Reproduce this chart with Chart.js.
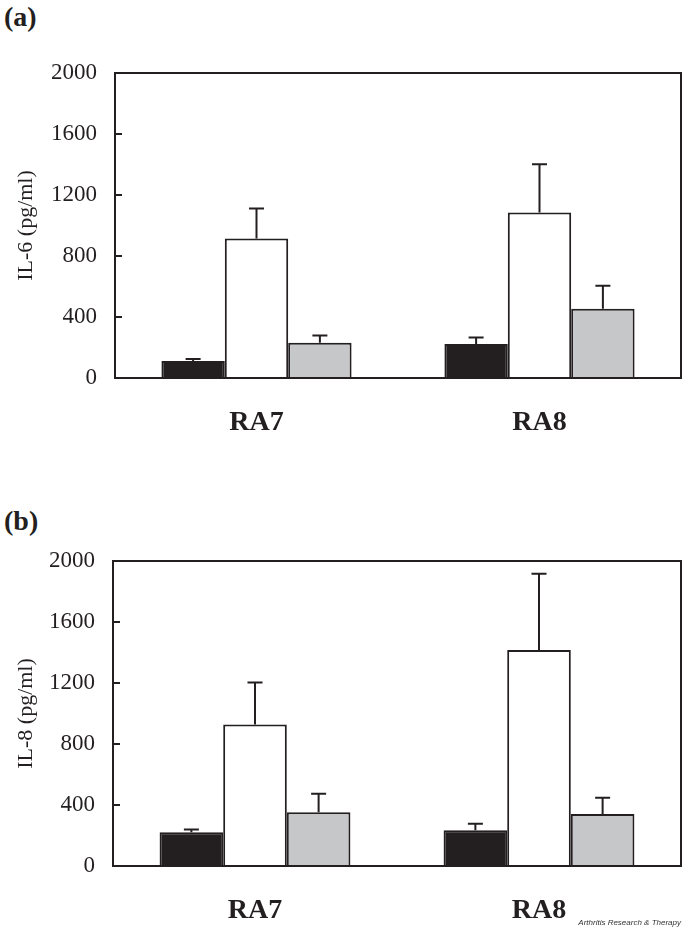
<!DOCTYPE html>
<html>
<head>
<meta charset="utf-8">
<script src="https://cdn.jsdelivr.net/npm/chart.js@4"></script>
<style>
  body { margin: 0; background: #fff; }
  #page { position: relative; width: 685px; height: 935px; overflow: hidden; }
  canvas { position: absolute; left: 0; }
  .panel { position: absolute; left: 4px; font-family: "Liberation Serif", serif; font-weight: bold; font-size: 28px; line-height: 1; color: #231f20; }
  #fonte { position: absolute; right: 4px; top: 918px; font-family: "Liberation Sans", sans-serif; font-style: italic; font-size: 8px; color: #333; }
</style>
</head>
<body>
<div id="page">
  <div class="panel" style="top:3px">(a)</div>
  <canvas id="graficoA" width="685" height="450" style="top:0"></canvas>
  <div class="panel" style="top:507px">(b)</div>
  <canvas id="graficoB" width="685" height="455" style="top:480px"></canvas>
  <div id="fonte">Arthritis Research &amp; Therapy</div>
</div>
<script>
const categorias = ["RA7", "RA8"];
const ticksY = [0, 400, 800, 1200, 1600, 2000];

// (a) IL-6
const il6Preto = [112, 223];
const il6PretoErro = [12, 43];
const il6Branco = [915, 1086];
const il6BrancoErro = [197, 315];
const il6Cinza = [231, 454];
const il6CinzaErro = [48, 151];

// (b) IL-8
const il8Preto = [221, 234];
const il8PretoErro = [19, 43];
const il8Branco = [928, 1417];
const il8BrancoErro = [275, 500];
const il8Cinza = [352, 341];
const il8CinzaErro = [122, 106];

const escuro = "#231f20";
const cinza = "#c6c7c9";

Chart.defaults.font.family = "'Liberation Serif', 'Times New Roman', serif";
Chart.defaults.color = escuro;

// moldura, ticks internos e barras de erro
const molduraPlugin = {
  id: "moldura",
  afterDatasetsDraw(chart) {
    const ctx = chart.ctx;
    const area = chart.chartArea;
    const y = chart.scales.y;

    ctx.save();
    ctx.strokeStyle = escuro;
    ctx.lineWidth = 2;

    chart.data.datasets.forEach((ds, i) => {
      const meta = chart.getDatasetMeta(i);
      meta.data.forEach((barra, j) => {
        const topo = y.getPixelForValue(ds.data[j] + ds.erros[j]);
        ctx.beginPath();
        ctx.moveTo(barra.x, barra.y);
        ctx.lineTo(barra.x, topo);
        ctx.moveTo(barra.x - 7.5, topo);
        ctx.lineTo(barra.x + 7.5, topo);
        ctx.stroke();
      });
    });

    ctx.strokeRect(area.left, area.top, area.right - area.left, area.bottom - area.top);

    ticksY.forEach((v) => {
      if (v == 0 || v == 2000) return;
      const py = Math.round(y.getPixelForValue(v));
      ctx.beginPath();
      ctx.moveTo(area.left, py);
      ctx.lineTo(area.left + 7, py);
      ctx.stroke();
    });
    ctx.restore();
  },
};

function criarGrafico(id, titulo, preto, pretoErro, branco, brancoErro, cinzaV, cinzaErro, layout) {
  return new Chart(document.getElementById(id), {
    type: "bar",
    data: {
      labels: categorias,
      datasets: [
        { data: preto, erros: pretoErro, backgroundColor: escuro, borderColor: escuro, borderWidth: 2 },
        { data: branco, erros: brancoErro, backgroundColor: "#ffffff", borderColor: escuro, borderWidth: 2 },
        { data: cinzaV, erros: cinzaErro, backgroundColor: cinza, borderColor: escuro, borderWidth: 2 },
      ],
    },
    options: {
      responsive: false,
      animation: false,
      devicePixelRatio: 1,
      categoryPercentage: 0.672,
      barPercentage: 1.0,
      layout: {
        padding: { top: layout.top, right: 4, bottom: layout.bottom, left: 0 },
      },
      plugins: {
        legend: { display: false },
        tooltip: { enabled: false },
      },
      scales: {
        x: {
          grid: { display: false },
          border: { display: false },
          ticks: { font: { size: 28, weight: "bold" }, padding: 20, color: escuro },
          afterFit: (scale) => { scale.height = 62; },
        },
        y: {
          min: 0,
          max: 2000,
          afterBuildTicks: (scale) => { scale.ticks = ticksY.map((v) => ({ value: v })); },
          grid: { display: false, drawTicks: false },
          border: { display: false },
          ticks: { font: { size: 23 }, padding: 18, color: escuro, callback: (v) => String(v) },
          title: {
            display: true,
            text: titulo,
            font: { size: 22 },
            color: escuro,
            padding: { top: 13, bottom: 0 },
          },
          afterFit: (scale) => { scale.width = layout.left; },
        },
      },
    },
    plugins: [molduraPlugin],
  });
}

criarGrafico("graficoA", "IL-6 (pg/ml)", il6Preto, il6PretoErro, il6Branco, il6BrancoErro, il6Cinza, il6CinzaErro,
  { top: 73, bottom: 10, left: 115 });
criarGrafico("graficoB", "IL-8 (pg/ml)", il8Preto, il8PretoErro, il8Branco, il8BrancoErro, il8Cinza, il8CinzaErro,
  { top: 81, bottom: 7, left: 113 });
</script>
</body>
</html>
